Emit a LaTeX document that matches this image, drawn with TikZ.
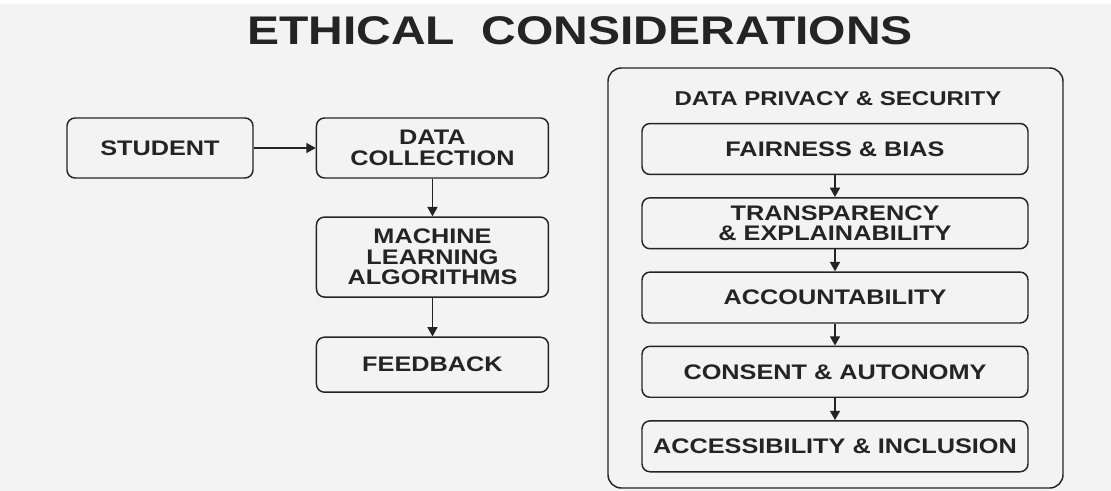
\documentclass[tikz,border=0pt]{standalone}
\usepackage{fontspec}
\setmainfont{Liberation Sans}[FakeStretch=1.2]
\usetikzlibrary{positioning}
\usetikzlibrary{arrows.meta}
\definecolor{ink}{HTML}{242424}
\definecolor{paper}{HTML}{F3F3F3}
\tikzset{
  step-box/.style={
    draw=ink,
    line width=1.1pt,
    rounded corners=6pt,
    align=center,
    inner sep=0pt,
    text=ink,
    font=\bfseries\fontsize{15.8}{15.4}\selectfont},
  left-box/.style={step-box, minimum width=174pt},
  right-box/.style={step-box, minimum width=289.5pt, minimum height=38.2pt},
  frame-box/.style={draw=ink, line width=1.1pt, rounded corners=10pt, inner sep=0pt},
  flow-path/.style={draw=ink, line width=1.1pt, -{Triangle[length=7pt, width=7.5pt]}},
}

\begin{document}
\begin{tikzpicture}[x=0.75pt, y=-0.75pt]
% page
\fill[paper] (0,0) rectangle (1111,491);
\fill[white] (0,0) rectangle (1111,4);
\node[text=ink, font=\bfseries\fontsize{30}{30}\selectfont] (title) at (580,31) {ETHICAL\ \ CONSIDERATIONS};

% pipeline on the left
\node[step-box, minimum width=139.5pt, minimum height=45pt] (student) at (160,148) {STUDENT};
\node[left-box, minimum height=45pt, right=46.5pt of student] (collection) {DATA\\COLLECTION};
\node[left-box, minimum height=60pt, below=28.2pt of collection] (algorithms) {MACHINE\\LEARNING\\ALGORITHMS};
\node[left-box, minimum height=41.25pt, below=29pt of algorithms] (feedback) {FEEDBACK};
\draw[flow-path] (student) -- (collection);
\draw[flow-path] (collection) -- (algorithms);
\draw[flow-path] (algorithms) -- (feedback);

% considerations on the right
\node[frame-box, minimum width=341.25pt, minimum height=315pt] (privacy) at (835.5,278) {};
\node[text=ink, font=\bfseries\fontsize{15}{15}\selectfont] (privacy-title) at (838,99) {DATA PRIVACY \& SECURITY};
\node[right-box] (fairness) at (835,149) {FAIRNESS \& BIAS};
\node[right-box, below=16.4pt of fairness] (transparency) {TRANSPARENCY\\\& EXPLAINABILITY};
\node[right-box, below=16.4pt of transparency] (accountability) {ACCOUNTABILITY};
\node[right-box, below=16.4pt of accountability] (consent) {CONSENT \& AUTONOMY};
\node[right-box, below=16.6pt of consent] (accessibility) {ACCESSIBILITY \& INCLUSION};
\foreach \from/\to in {fairness/transparency, transparency/accountability, accountability/consent, consent/accessibility}
  \draw[flow-path] (\from) -- (\to);
\end{tikzpicture}
\end{document}
